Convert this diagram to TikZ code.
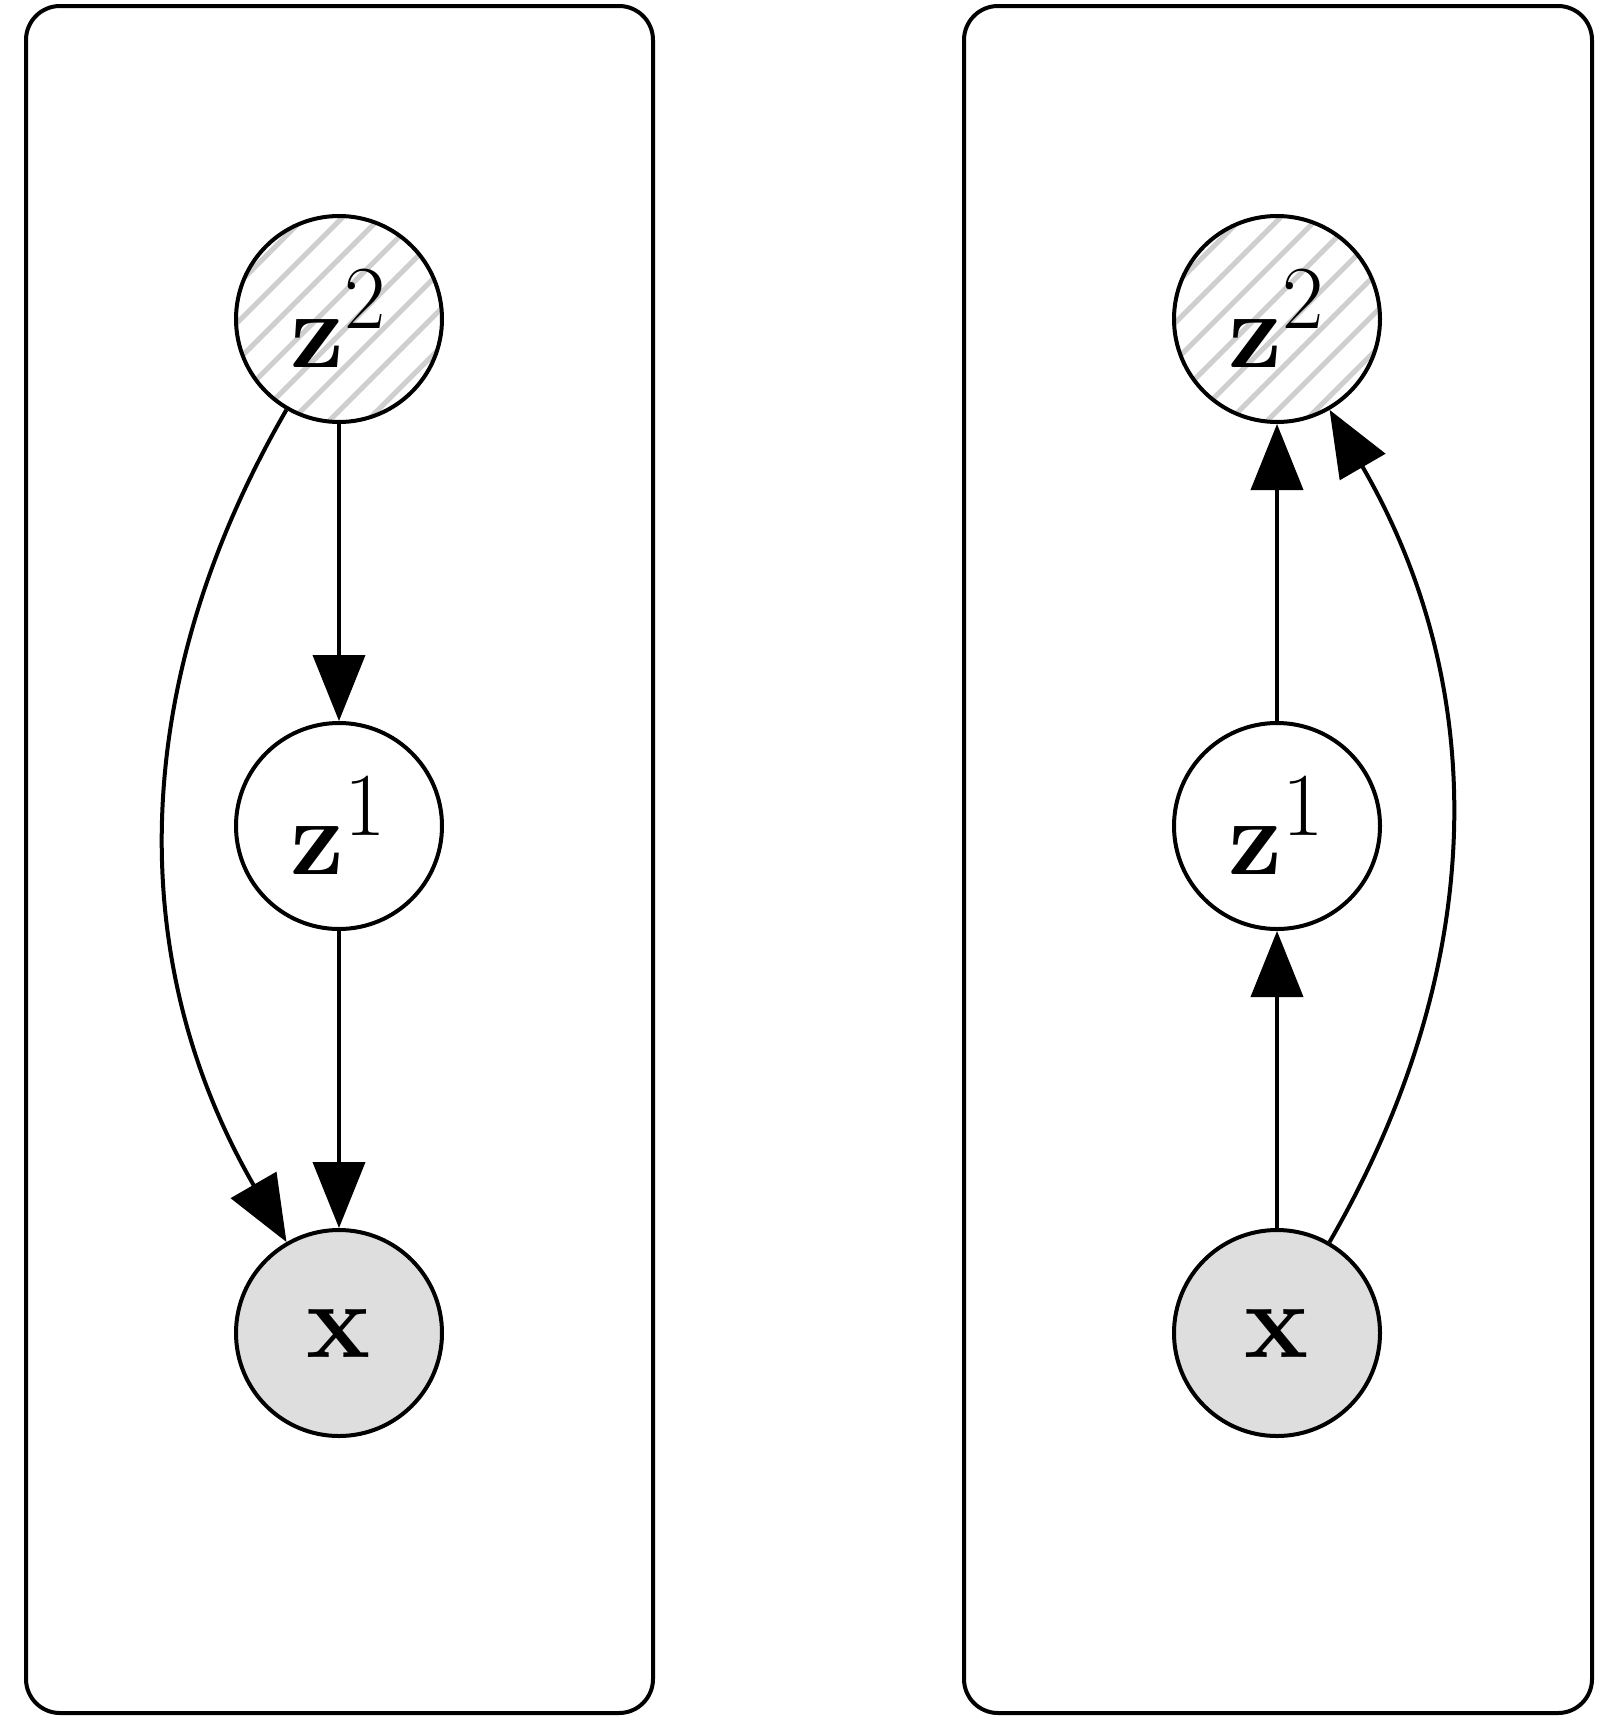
\documentclass[tikz,border=0pt]{standalone}
\usepackage{amsmath}
\usepackage{graphicx}
\usetikzlibrary{arrows.meta}
\definecolor{obsgray}{HTML}{DEDEDE}
\definecolor{hatchgray}{HTML}{CFCFCF}
\newcommand{\varlabel}[1]{\scalebox{1.085}{\Huge$#1$}}
\begin{document}
\begin{tikzpicture}[x=0.25pt,y=-0.25pt,
  var/.style={circle,draw,line width=1pt,minimum size=51.5pt,inner sep=0pt},
  obs/.style={var,fill=obsgray},
  plate/.style={draw,line width=1pt,rounded corners=8.5pt},
  edge/.style={line width=1pt,-{Triangle[length=16.5pt,width=13pt]}}]
\useasboundingbox (0,0) rectangle (1624,1734);

% plates
\draw[plate] (26,6) rectangle (653,1713);
\draw[plate] (964,6) rectangle (1592,1713);

% hatching of the latent top variable
\foreach \cx in {339,1277}{
  \begin{scope}
    \clip (\cx,319) circle [radius=102.5];
    \foreach \d in {-6,...,6}
      \draw[hatchgray,line width=1.3pt] (\cx+\d*38+16-160,319+160) -- (\cx+\d*38+16+160,319-160);
  \end{scope}
}

% generative model
\node[var] (gz2) at (339,319) {\varlabel{\mathbf{z}^2}};
\node[var] (gz1) at (339,826) {\varlabel{\mathbf{z}^1}};
\node[obs] (gx)  at (339,1333) {\varlabel{\mathbf{x}}};
\draw[edge] (gz2) -- (gz1);
\draw[edge] (gz1) -- (gx);
\draw[edge] (gz2) .. controls (126,687) and (126,964) .. (gx);

% inference model
\node[var] (iz2) at (1277,319) {\varlabel{\mathbf{z}^2}};
\node[var] (iz1) at (1277,826) {\varlabel{\mathbf{z}^1}};
\node[obs] (ix)  at (1277,1333) {\varlabel{\mathbf{x}}};
\draw[edge] (ix) -- (iz1);
\draw[edge] (iz1) -- (iz2);
\draw[edge] (ix) .. controls (1490,964) and (1490,687) .. (iz2);
\end{tikzpicture}
\end{document}
